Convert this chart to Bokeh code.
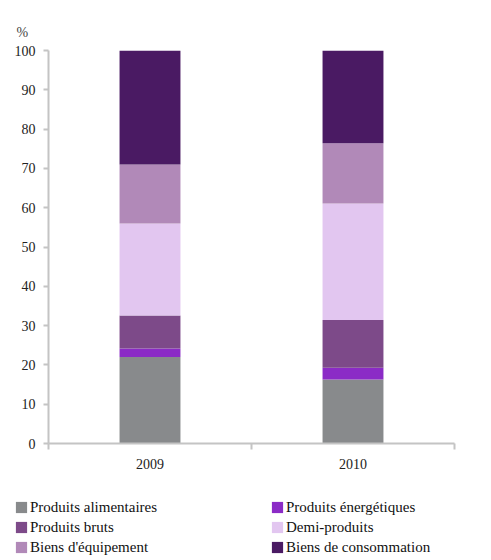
from bokeh.plotting import figure
from bokeh.layouts import column
from bokeh.models import ColumnDataSource, FixedTicker, Legend, LegendItem, Range1d
from bokeh.embed import file_html
from bokeh.resources import INLINE

years = ["2009", "2010"]
series = ["Produits alimentaires", "Produits énergétiques", "Produits bruts",
          "Demi-produits", "Biens d'équipement", "Biens de consommation"]
alimentaires = [22.0, 16.3]
energetiques = [2.2, 3.0]
bruts = [8.4, 12.1]
demi = [23.4, 29.7]
equipement = [15.0, 15.3]
consommation = [29.0, 23.6]
colors = ["#888a8c", "#8b2bc6", "#7d4a89", "#e2c6f0", "#b189b8", "#4a1a63"]
y_ticks = list(range(0, 101, 10))

keys = ["s0", "s1", "s2", "s3", "s4", "s5"]
xpos = [i + 0.5 for i in range(len(years))]
source = ColumnDataSource(dict(x=xpos, s0=alimentaires, s1=energetiques, s2=bruts,
                               s3=demi, s4=equipement, s5=consommation))

FONT = "Liberation Serif"
AXIS_COLOR = "#c4c4c4"

p = figure(width=475, height=480, output_backend="svg", toolbar_location=None,
           x_range=Range1d(0, len(years)), y_range=Range1d(0, 100),
           min_border_left=48, min_border_right=21, min_border_top=50,
           min_border_bottom=37, title="%")
p.frame_align = False
p.outline_line_color = None
p.xgrid.visible = False
p.ygrid.visible = False
p.title.text_font = FONT
p.title.text_font_size = "14px"
p.title.text_font_style = "normal"
p.title.align = "left"
p.title.offset = -32
p.title.standoff = 21

p.vbar_stack(keys, x="x", width=0.3, color=colors, line_color=None, source=source)

p.yaxis.ticker = FixedTicker(ticks=y_ticks)
p.yaxis.axis_line_color = AXIS_COLOR
p.yaxis.axis_line_width = 2
p.yaxis.major_tick_line_color = AXIS_COLOR
p.yaxis.major_tick_line_width = 2
p.yaxis.major_tick_out = 5
p.yaxis.major_tick_in = 0
p.yaxis.minor_tick_line_color = None
p.yaxis.major_label_text_font = FONT
p.yaxis.major_label_text_font_size = "14px"
p.yaxis.major_label_text_color = "#222222"
p.yaxis.major_label_standoff = 8

p.xaxis.ticker = FixedTicker(ticks=xpos, minor_ticks=list(range(len(years) + 1)))
p.xaxis.major_label_overrides = {x: y for x, y in zip(xpos, years)}
p.xaxis.axis_line_color = AXIS_COLOR
p.xaxis.axis_line_width = 2
p.xaxis.major_tick_line_color = None
p.xaxis.minor_tick_line_color = AXIS_COLOR
p.xaxis.minor_tick_line_width = 2
p.xaxis.minor_tick_out = 6
p.xaxis.minor_tick_in = 0
p.xaxis.major_label_text_font = FONT
p.xaxis.major_label_text_font_size = "14px"
p.xaxis.major_label_text_color = "#222222"
p.xaxis.major_label_standoff = 9

# legend panel (two columns, filled column by column)
lg = figure(width=475, height=76, output_backend="svg", toolbar_location=None,
            x_range=Range1d(0, 1), y_range=Range1d(0, 1),
            x_axis_type=None, y_axis_type=None, min_border=0)
lg.frame_align = False
lg.outline_line_color = None
nan = float("nan")
handles = []
for c in colors:
    handles.append(lg.vbar(x=[nan], top=[nan], width=0.3, color=c, line_color=None))
order = [0, 2, 4, 1, 3, 5]
items = [LegendItem(label=series[i], renderers=[handles[i]]) for i in order]
legend = Legend(items=items, ncols=2, location=(14, 0),
                glyph_width=14, glyph_height=14, label_standoff=2,
                label_width=238, spacing=2, padding=0, margin=0,
                border_line_color=None, background_fill_alpha=0,
                label_text_font=FONT, label_text_font_size="15px",
                label_text_color="#111111", label_height=18)
lg.add_layout(legend, "center")

layout = column(p, lg, spacing=0)
open("out.html", "w").write(file_html(layout, INLINE))
